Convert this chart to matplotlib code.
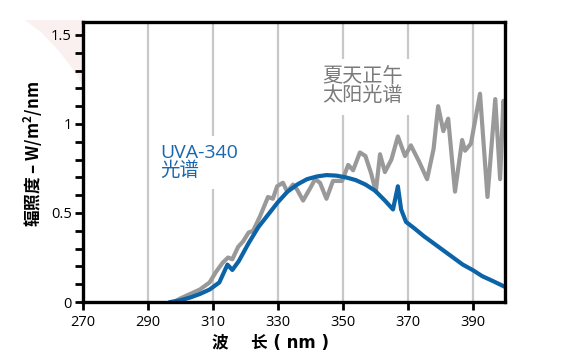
import matplotlib
matplotlib.use("Agg")
import matplotlib.pyplot as plt
from matplotlib.patches import Polygon
import numpy as np

plt.rcParams['font.family'] = ['Open Sans', 'Noto Sans CJK SC', 'DejaVu Sans']
plt.rcParams['mathtext.fontset'] = 'custom'
plt.rcParams['mathtext.bf'] = 'Noto Sans CJK SC:bold'
plt.rcParams['mathtext.rm'] = 'Noto Sans CJK SC'

# UVA-340 lamp spectrum
uva_nm = [297, 300, 303, 306, 309, 312, 314.5, 316, 318, 321, 324, 327, 330, 333, 336,
          339, 342, 345, 348, 351, 354, 357, 360, 363, 365.5, 367, 368, 369.5, 372,
          375, 378, 381, 384, 387, 390, 393, 396, 400]
uva_val = [0, 0.01, 0.025, 0.045, 0.07, 0.11, 0.21, 0.18, 0.23, 0.33, 0.42, 0.49, 0.56,
           0.62, 0.66, 0.69, 0.705, 0.713, 0.71, 0.70, 0.685, 0.66, 0.625, 0.57, 0.52,
           0.65, 0.52, 0.45, 0.415, 0.37, 0.33, 0.29, 0.25, 0.21, 0.18, 0.145, 0.12, 0.085]

# Summer noon sunlight spectrum
sun_nm = [298, 300, 303, 306, 309, 311, 313, 314.7, 316, 317.8, 319.3, 321, 322.4, 324.5,
          327, 328.5, 329.8, 331.6, 332.9, 334.7, 336, 337.8, 340, 341.5, 343, 345, 347,
          349.8, 351.7, 353.2, 355.3, 357, 358.8, 360.2, 361.5, 363, 365, 367, 369.2, 371,
          373.5, 376, 378, 379.4, 381, 382.5, 384.6, 386.8, 387.7, 389.5, 392.3, 394.6,
          397, 398.5, 399.5, 400]
sun_val = [0, 0.02, 0.045, 0.07, 0.11, 0.17, 0.22, 0.25, 0.24, 0.31, 0.34, 0.39, 0.40,
           0.48, 0.59, 0.58, 0.65, 0.67, 0.62, 0.66, 0.63, 0.57, 0.64, 0.69, 0.67, 0.58,
           0.68, 0.68, 0.77, 0.74, 0.84, 0.82, 0.72, 0.62, 0.83, 0.73, 0.80, 0.93, 0.82,
           0.88, 0.79, 0.69, 0.86, 1.10, 0.96, 1.03, 0.62, 0.91, 0.85, 0.89, 1.17, 0.59,
           1.14, 0.69, 1.13, 1.05]

x_ticks = [270, 290, 310, 330, 350, 370, 390]
grid_x = [290, 310, 330, 350, 370, 390]
y_ticks = [0, 0.5, 1, 1.5]
y_ticklabels = ['0', '0.5', '1', '1.5']

W, H = 579, 363
fig = plt.figure(figsize=(W / 100, H / 100), dpi=100)
fig.patch.set_facecolor('white')

# decorative pink corner (background ornament)
corner_px = [(25, 20), (83, 20), (83, 85), (72, 68), (58, 50), (42, 33)]
fig.patches.append(Polygon([(x / W, 1 - y / H) for x, y in corner_px], closed=True,
                           transform=fig.transFigure, facecolor='#faf0f0',
                           edgecolor='none', zorder=-1))

ax = fig.add_axes([83 / W, (H - 302) / H, (505 - 83) / W, (302 - 22) / H])
ax.set_xlim(270, 400)
ax.set_ylim(0, 1.573)
ax.patch.set_alpha(0)

for gx in grid_x:
    ax.axvline(gx, color='#c8c8c8', lw=1.6, zorder=1)

ax.plot(sun_nm, sun_val, color='#999999', lw=3.0, zorder=3, solid_joinstyle='round')
ax.plot(uva_nm, uva_val, color='#0b63a8', lw=3.0, zorder=4, solid_joinstyle='round')

ax.text(293.7, 0.885, 'UVA-340\n光谱', color='#1a67ad', fontsize=14, va='top', ha='left',
        linespacing=0.95, zorder=2,
        bbox=dict(facecolor='white', edgecolor='none', pad=6))
ax.text(343.6, 1.32, '夏天正午\n太阳光谱', color='#7a7a7a', fontsize=14.5, va='top', ha='left',
        linespacing=0.95, zorder=2,
        bbox=dict(facecolor='white', edgecolor='none', pad=6))

for s in ax.spines.values():
    s.set_color('black')
    s.set_linewidth(2.4)
    s.set_zorder(5)

ax.set_xticks(x_ticks)
ax.set_xticklabels([str(v) for v in x_ticks], fontsize=10.5)
ax.set_yticks(y_ticks)
ax.set_yticklabels(y_ticklabels, fontsize=10.5)
ax.set_yticks(np.arange(0, 1.55, 0.1), minor=True)
ax.tick_params(axis='both', which='both', direction='out', length=6, width=2.0, color='black')
ax.tick_params(axis='x', pad=3)
ax.tick_params(axis='y', pad=2)

ax.set_xlabel('波　 长 ( nm )', fontsize=12, fontweight='bold',
              family=['DejaVu Sans', 'Noto Sans CJK SC'])
ax.xaxis.set_label_coords((271 - 83) / (505 - 83), -0.115)
ax.set_ylabel('辐照度 – W/m$^{\\mathbf{2}}$/nm', fontsize=12, fontweight='bold',
              family=['Noto Sans CJK SC', 'DejaVu Sans'])
ax.yaxis.set_label_coords(-(83 - 45) / (505 - 83), 0.53)

fig.savefig('out.png', dpi=100, facecolor='white')
